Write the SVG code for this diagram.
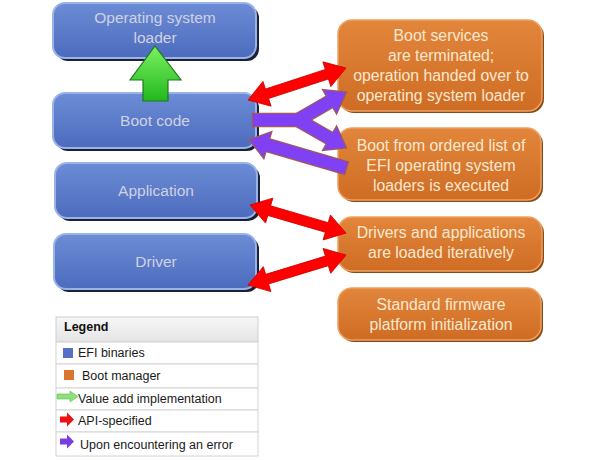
<svg xmlns="http://www.w3.org/2000/svg" width="600" height="460" viewBox="0 0 600 460">
<defs>
<linearGradient id="gBlue" x1="0" y1="0" x2="0" y2="1"><stop offset="0" stop-color="#6c8cd6"/><stop offset="1" stop-color="#4d6bbd"/></linearGradient>
<linearGradient id="gOrange" x1="0" y1="0" x2="0" y2="1"><stop offset="0" stop-color="#e2863c"/><stop offset="1" stop-color="#cf6c24"/></linearGradient>
<linearGradient id="gGreen" x1="0" y1="0" x2="0" y2="1"><stop offset="0" stop-color="#7cf060"/><stop offset="1" stop-color="#22b81e"/></linearGradient>
<linearGradient id="gHead" x1="0" y1="0" x2="0" y2="1"><stop offset="0" stop-color="#f7f7f7"/><stop offset="1" stop-color="#e4e4e4"/></linearGradient>
</defs>
<style>
.bshadow{fill:#1c2233}
.blue{fill:url(#gBlue);stroke:#9ab2ea;stroke-width:2}
.oshadow{fill:#8a4a18}
.orange{fill:url(#gOrange);stroke:#eea060;stroke-width:1.5}
.bt{font-family:"Liberation Sans",Arial,sans-serif;font-size:15.5px;fill:#cfd2e2;text-anchor:middle}
.ot{font-family:"Liberation Sans",Arial,sans-serif;font-size:15.8px;fill:#fbe8d0;text-anchor:middle}
.red{fill:#ff0000;stroke:#d40000;stroke-width:0.8}
.pur{fill:#8040f4}
.purO{fill:#8040f4;stroke:#a05a5a;stroke-width:2.5}
.lt{font-family:"Liberation Sans",Arial,sans-serif;font-size:12.5px;fill:#1a1a1a}
.row{fill:#ffffff;stroke:#d4d4d4;stroke-width:1}
</style>

<g id="node-os-loader">
<rect class="bshadow" x="56" y="6" width="203" height="55" rx="12"/>
<rect class="blue" x="53" y="3" width="203" height="55" rx="12"/>
<text class="bt" x="155" y="23">Operating system</text>
<text class="bt" x="155" y="43">loader</text>
</g>
<g id="node-boot-code">
<rect class="bshadow" x="56" y="96" width="203" height="55" rx="12"/>
<rect class="blue" x="53" y="93" width="203" height="55" rx="12"/>
<text class="bt" x="155" y="126">Boot code</text>
</g>
<g id="node-application">
<rect class="bshadow" x="58" y="166" width="202" height="55" rx="12"/>
<rect class="blue" x="55" y="163" width="202" height="55" rx="12"/>
<text class="bt" x="156" y="196">Application</text>
</g>
<g id="node-driver">
<rect class="bshadow" x="57" y="237" width="202" height="55" rx="12"/>
<rect class="blue" x="54" y="234" width="202" height="55" rx="12"/>
<text class="bt" x="156" y="267">Driver</text>
</g>

<g id="node-boot-services">
<rect class="oshadow" x="340" y="22" width="204" height="91" rx="14"/>
<rect class="orange" x="338" y="20" width="204" height="91" rx="14"/>
<text class="ot" x="441" y="41">Boot services</text>
<text class="ot" x="441" y="61">are terminated;</text>
<text class="ot" x="441" y="81">operation handed over to</text>
<text class="ot" x="441" y="101">operating system loader</text>
</g>
<g id="node-boot-list">
<rect class="oshadow" x="340" y="130" width="203" height="72" rx="14"/>
<rect class="orange" x="338" y="128" width="203" height="72" rx="14"/>
<text class="ot" x="441" y="151">Boot from ordered list of</text>
<text class="ot" x="441" y="171">EFI operating system</text>
<text class="ot" x="441" y="191">loaders is executed</text>
</g>
<g id="node-drivers-apps">
<rect class="oshadow" x="340" y="219" width="204" height="54" rx="14"/>
<rect class="orange" x="338" y="217" width="204" height="54" rx="14"/>
<text class="ot" x="441" y="238">Drivers and applications</text>
<text class="ot" x="441" y="258">are loaded iteratively</text>
</g>
<g id="node-platform-init">
<rect class="oshadow" x="340" y="290" width="203" height="52" rx="14"/>
<rect class="orange" x="338" y="288" width="203" height="52" rx="14"/>
<text class="ot" x="441" y="310">Standard firmware</text>
<text class="ot" x="441" y="330">platform initialization</text>
</g>

<g id="connectors">
<polygon points="155,46 130,80 143,80 143,101 168,101 168,80 181,80" fill="url(#gGreen)" stroke="#1d7a1d" stroke-width="1.2"/>
<polygon class="red" transform="translate(248,100) rotate(-18.1)" points="0,0 20,-13 20,-5 83,-5 83,-13 103,0 83,13 83,5 20,5 20,13"/>
<polygon class="red" transform="translate(250,205) rotate(16.3)" points="0,0 20,-13 20,-5 80,-5 80,-13 100,0 80,13 80,5 20,5 20,13"/>
<polygon class="red" transform="translate(248,285) rotate(-17)" points="0,0 20,-13 20,-5 82.5,-5 82.5,-13 102.5,0 82.5,13 82.5,5 20,5 20,13"/>
<g id="purple-outline">
<rect class="purO" x="253" y="114" width="50" height="12"/>
<polygon class="purO" transform="translate(298,120) rotate(-29.9)" points="0,-6 37,-6 37,-13 55,0 37,13 37,6 0,6"/>
<polygon class="purO" transform="translate(298,120) rotate(29.9)" points="0,-6 37,-6 37,-13 55,0 37,13 37,6 0,6"/>
<polygon class="purO" transform="translate(346,168) rotate(196.3)" points="0,-6 82,-6 82,-13 100,0 82,13 82,6 0,6"/>
</g>
<rect class="pur" x="253" y="114" width="50" height="12"/>
<polygon class="pur" transform="translate(298,120) rotate(-29.9)" points="0,-6 37,-6 37,-13 55,0 37,13 37,6 0,6"/>
<polygon class="pur" transform="translate(298,120) rotate(29.9)" points="0,-6 37,-6 37,-13 55,0 37,13 37,6 0,6"/>
<polygon class="pur" transform="translate(346,168) rotate(196.3)" points="0,-6 82,-6 82,-13 100,0 82,13 82,6 0,6"/>
</g>

<g id="legend">
<rect x="56" y="317" width="202" height="25" fill="url(#gHead)" stroke="#d0d0d0"/>
<text x="64" y="331" font-family="'Liberation Sans',Arial,sans-serif" font-size="12.5" font-weight="bold" fill="#111">Legend</text>
<rect class="row" x="56" y="342" width="202" height="22"/>
<rect class="row" x="56" y="364" width="202" height="24"/>
<rect class="row" x="56" y="388" width="202" height="22"/>
<rect class="row" x="56" y="410" width="202" height="22"/>
<rect class="row" x="56" y="432" width="202" height="24"/>
<rect x="63" y="348" width="10" height="10" fill="#5570c4"/>
<text class="lt" x="78" y="357">EFI binaries</text>
<rect x="64" y="370" width="10" height="10" fill="#d9752e"/>
<text class="lt" x="82" y="380">Boot manager</text>
<polygon points="57,394 70,394 70,391 78,396.5 70,402 70,399 57,399" fill="#8ee07a" stroke="#5cbf4a" stroke-width="0.6"/>
<text class="lt" x="78" y="403">Value add implementation</text>
<polygon points="60,416.5 67,416.5 67,412.5 74,419.5 67,426.5 67,422.5 60,422.5" fill="#ee1111"/>
<text class="lt" x="78" y="425">API-specified</text>
<polygon points="60,438.5 67,438.5 67,434.5 74,441.5 67,448.5 67,444.5 60,444.5" fill="#7a3ee0"/>
<text class="lt" x="80" y="449">Upon encountering an error</text>
</g>
</svg>
